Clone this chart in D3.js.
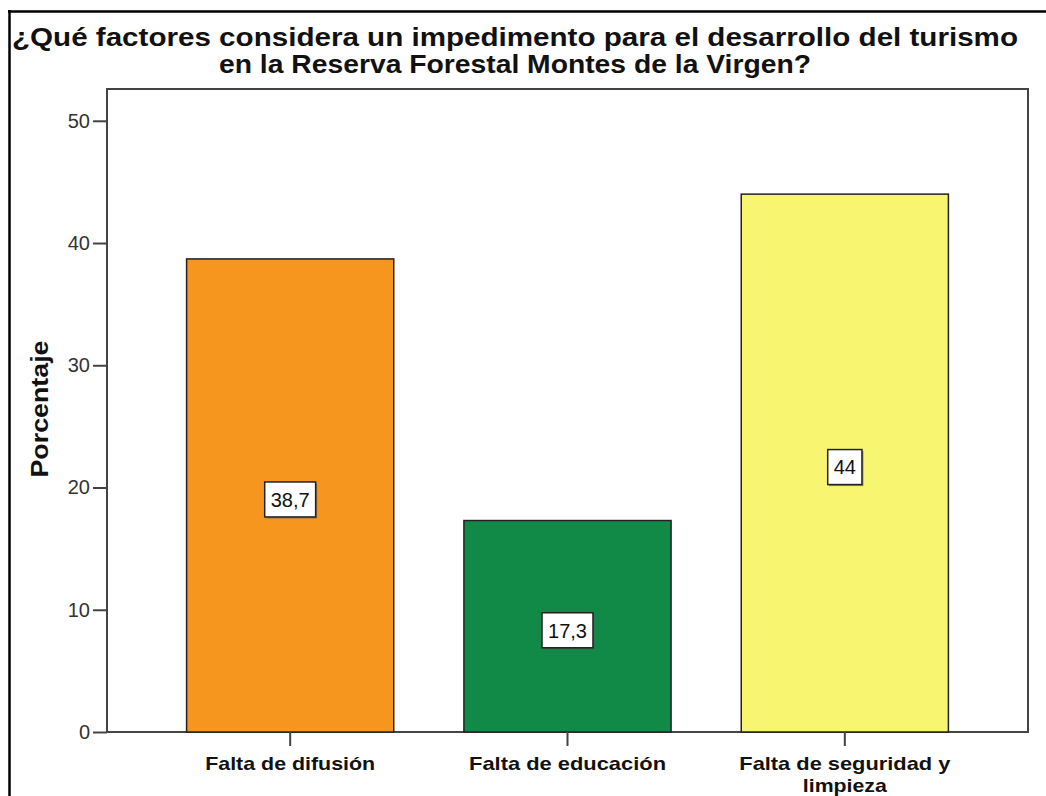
<!DOCTYPE html>
<html>
<head>
<meta charset="utf-8">
<script src="https://cdn.jsdelivr.net/npm/d3@7"></script>
<style>
  html, body { margin: 0; padding: 0; background: #fff; }
  svg { display: block; }
  text { font-family: "Liberation Sans", Arial, sans-serif; }
</style>
</head>
<body>
<div id="chart"></div>
<script>
const titleLines = ["¿Qué factores considera un impedimento para el desarrollo del turismo",
                    "en la Reserva Forestal Montes de la Virgen?"];
const categories = ["Falta de difusión", "Falta de educación", "Falta de seguridad y limpieza"];
const categoryLabelLines = [["Falta de difusión"], ["Falta de educación"], ["Falta de seguridad y", "limpieza"]];
const values = [38.7, 17.3, 44];
const valueLabels = ["38,7", "17,3", "44"];
const colors = ["#f7961e", "#118a47", "#f8f571"];
const yTicks = [0, 10, 20, 30, 40, 50];
const yAxisTitle = "Porcentaje";

const W = 1046, H = 796;
const plot = { left: 107, right: 1028, top: 89, bottom: 732 };

const svg = d3.select("#chart").append("svg").attr("width", W).attr("height", H);

// outer frame (top and left edges)
svg.append("line").attr("x1", 9.5).attr("x2", 9.5).attr("y1", 10).attr("y2", H)
  .attr("stroke", "#000").attr("stroke-width", 2.5);
svg.append("line").attr("x1", 8).attr("x2", W).attr("y1", 11.5).attr("y2", 11.5)
  .attr("stroke", "#000").attr("stroke-width", 2.5);

// title
svg.append("text").attr("x", 515).attr("y", 46).attr("text-anchor", "middle")
  .attr("font-size", 25).attr("font-weight", "bold").attr("fill", "#111")
  .attr("textLength", 1006).attr("lengthAdjust", "spacingAndGlyphs")
  .text(titleLines[0]);
svg.append("text").attr("x", 515).attr("y", 73).attr("text-anchor", "middle")
  .attr("font-size", 25).attr("font-weight", "bold").attr("fill", "#111")
  .attr("textLength", 592).attr("lengthAdjust", "spacingAndGlyphs")
  .text(titleLines[1]);

const x = d3.scaleBand().domain(categories).range([plot.left, plot.right])
  .paddingInner(0.253).paddingOuter(0.287);
const y = d3.scaleLinear().domain([0, 52.6]).range([plot.bottom, plot.top]);

// plot frame
svg.append("rect").attr("x", plot.left).attr("y", plot.top)
  .attr("width", plot.right - plot.left).attr("height", plot.bottom - plot.top)
  .attr("fill", "#fff").attr("stroke", "#444").attr("stroke-width", 2);

// bars
svg.append("g").selectAll("rect").data(categories).join("rect")
  .attr("x", d => x(d)).attr("y", (d, i) => y(values[i]))
  .attr("width", x.bandwidth()).attr("height", (d, i) => y(0) - y(values[i]))
  .attr("fill", (d, i) => colors[i]).attr("stroke", "#222").attr("stroke-width", 1.5);

// value labels
const lab = svg.append("g").selectAll("g").data(categories).join("g")
  .attr("transform", (d, i) => `translate(${x(d) + x.bandwidth() / 2},${y(values[i] / 2) + 4})`);
lab.each(function (d, i) {
  const g = d3.select(this);
  const t = g.append("text").attr("text-anchor", "middle").attr("dy", "0.37em")
    .attr("font-size", 20).attr("fill", "#111").text(valueLabels[i]);
  const w = t.node().getComputedTextLength() + 12;
  const h = 35;
  g.insert("rect", "text").attr("x", -w / 2 + 1.5).attr("y", -h / 2 + 1.5)
    .attr("width", w).attr("height", h).attr("fill", "#555").attr("opacity", 0.6);
  g.insert("rect", "text").attr("x", -w / 2).attr("y", -h / 2)
    .attr("width", w).attr("height", h).attr("fill", "#fff")
    .attr("stroke", "#222").attr("stroke-width", 1.5);
});

// y axis
const yAxis = svg.append("g").attr("transform", `translate(${plot.left},0)`)
  .call(d3.axisLeft(y).tickValues(yTicks).tickSize(14).tickPadding(3).tickFormat(d3.format("d")));
yAxis.select(".domain").remove();
yAxis.selectAll(".tick line").attr("stroke", "#444").attr("stroke-width", 2);
yAxis.selectAll(".tick text").attr("font-size", 20).attr("fill", "#333")
  .attr("font-family", "'Liberation Sans', Arial, sans-serif");

// x axis
const xLabelWidths = [[170], [197], [211, 84]];
const xAxis = svg.append("g").attr("transform", `translate(0,${plot.bottom})`)
  .call(d3.axisBottom(x).tickSize(14).tickFormat(""));
xAxis.select(".domain").remove();
xAxis.selectAll(".tick line").attr("stroke", "#444").attr("stroke-width", 2);
xAxis.selectAll(".tick").each(function (d, i) {
  const g = d3.select(this);
  categoryLabelLines[i].forEach((line, k) => {
    g.append("text").attr("text-anchor", "middle").attr("x", 0).attr("y", 38 + k * 21.5)
      .attr("font-size", 19).attr("font-weight", "bold").attr("fill", "#111")
      .attr("font-family", "'Liberation Sans', Arial, sans-serif")
      .attr("textLength", xLabelWidths[i][k]).attr("lengthAdjust", "spacingAndGlyphs")
      .text(line);
  });
});

// y axis title
svg.append("text").attr("transform", "translate(48,409) rotate(-90)")
  .attr("text-anchor", "middle").attr("font-size", 23).attr("font-weight", "bold")
  .attr("fill", "#111").attr("textLength", 137).attr("lengthAdjust", "spacingAndGlyphs")
  .text(yAxisTitle);
</script>
</body>
</html>
